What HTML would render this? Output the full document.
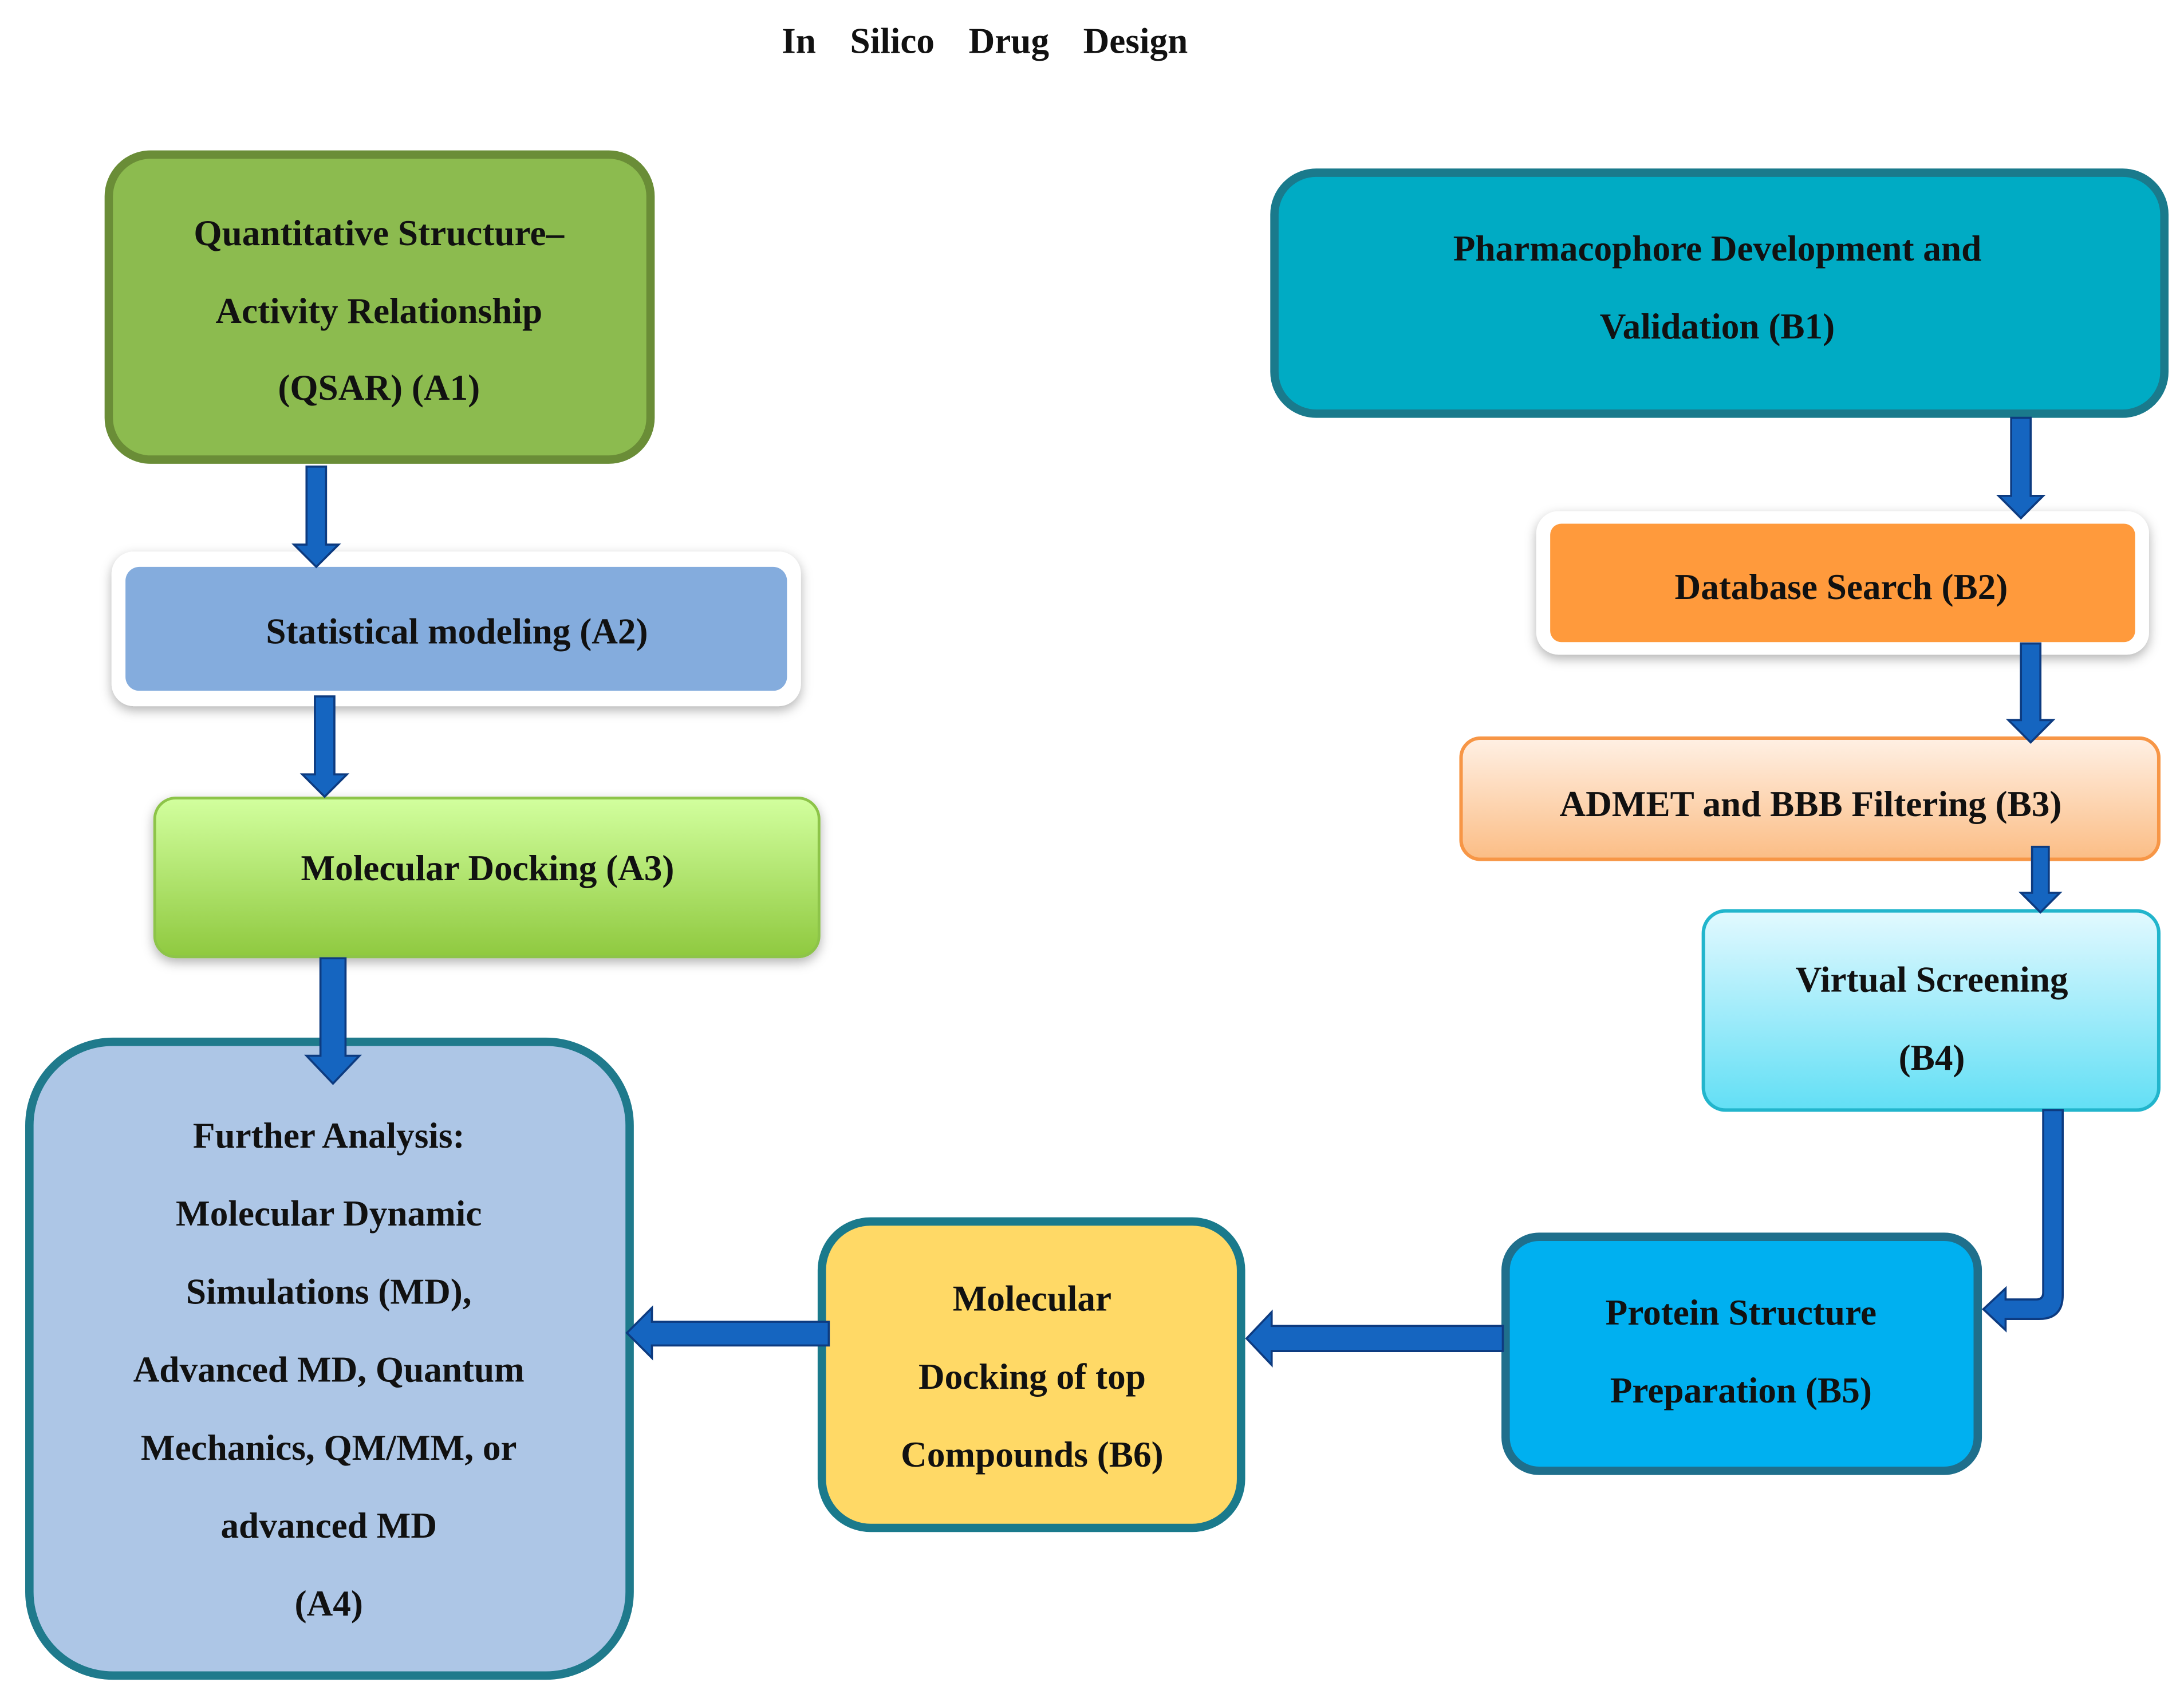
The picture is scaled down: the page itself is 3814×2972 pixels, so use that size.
<!DOCTYPE html>
<html><head><meta charset="utf-8"><style>
html,body{margin:0;padding:0;background:#fff}
svg{display:block}
text{font-family:"Liberation Serif",serif;font-weight:bold;font-size:26px;fill:#111;text-anchor:middle}
</style></head><body>
<svg width="3814" height="2972" viewBox="0 0 1568 1222" xmlns="http://www.w3.org/2000/svg">
<defs>
<linearGradient id="gA3" x1="0" y1="0" x2="0" y2="1"><stop offset="0" stop-color="#d2ff9e"/><stop offset="1" stop-color="#8fc93f"/></linearGradient>
<linearGradient id="gB3" x1="0" y1="0" x2="0" y2="1"><stop offset="0" stop-color="#fff0e4"/><stop offset="1" stop-color="#fbbd85"/></linearGradient>
<linearGradient id="gB4" x1="0" y1="0" x2="0" y2="1"><stop offset="0" stop-color="#e2f9ff"/><stop offset="1" stop-color="#62dff5"/></linearGradient>
<filter id="sh" x="-10%" y="-20%" width="120%" height="150%"><feDropShadow dx="0" dy="3" stdDeviation="4" flood-color="#000" flood-opacity="0.3"/></filter>
</defs>
<text x="707" y="38" font-size="30" word-spacing="18">In Silico Drug Design</text>

<!-- A1 -->
<rect x="78" y="111" width="389" height="219" rx="30" fill="#8cbb4f" stroke="#6a8d37" stroke-width="6"/>
<text x="272" y="176">Quantitative Structure–</text>
<text x="272" y="232">Activity Relationship</text>
<text x="272" y="287">(QSAR) (A1)</text>

<!-- A2 -->
<rect x="80" y="396" width="495" height="111" rx="16" fill="#fff" filter="url(#sh)"/>
<rect x="90" y="407" width="475" height="89" rx="10" fill="#84acdd"/>
<text x="328" y="462">Statistical modeling (A2)</text>

<!-- A3 -->
<rect x="111" y="573" width="477" height="114" rx="15" fill="url(#gA3)" stroke="#8dc448" stroke-width="2" filter="url(#sh)"/>
<text x="350" y="632">Molecular Docking (A3)</text>

<!-- A4 -->
<rect x="21" y="748" width="431" height="455" rx="60" fill="#adc6e6" stroke="#1f7a8c" stroke-width="6"/>
<text x="236" y="824">Further Analysis:</text>
<text x="236" y="880">Molecular Dynamic</text>
<text x="236" y="936">Simulations (MD),</text>
<text x="236" y="992">Advanced MD, Quantum</text>
<text x="236" y="1048">Mechanics, QM/MM, or</text>
<text x="236" y="1104">advanced MD</text>
<text x="236" y="1160">(A4)</text>

<!-- B1 -->
<rect x="915" y="124" width="639" height="173" rx="30" fill="#00abc4" stroke="#1a7a8c" stroke-width="6"/>
<text x="1233" y="187">Pharmacophore Development and</text>
<text x="1233" y="243">Validation (B1)</text>

<!-- B2 -->
<rect x="1103" y="367" width="440" height="103" rx="16" fill="#fff" filter="url(#sh)"/>
<rect x="1113" y="376" width="420" height="85" rx="8" fill="#ff9a3c"/>
<text x="1322" y="430">Database Search (B2)</text>

<!-- B3 -->
<rect x="1049" y="530" width="501" height="87" rx="14" fill="url(#gB3)" stroke="#f79646" stroke-width="2.5"/>
<text x="1300" y="586">ADMET and BBB Filtering (B3)</text>

<!-- B4 -->
<rect x="1223" y="654" width="327" height="143" rx="16" fill="url(#gB4)" stroke="#22b5cc" stroke-width="2.5"/>
<text x="1387" y="712">Virtual Screening</text>
<text x="1387" y="768">(B4)</text>

<!-- B5 -->
<rect x="1081" y="888" width="339" height="168" rx="24" fill="#00b0f0" stroke="#1f6f8c" stroke-width="6"/>
<text x="1250" y="951">Protein Structure</text>
<text x="1250" y="1007">Preparation (B5)</text>

<!-- B6 -->
<rect x="590" y="877" width="301" height="220" rx="35" fill="#ffd966" stroke="#1a7a8c" stroke-width="6"/>
<text x="741" y="941">Molecular</text>
<text x="741" y="997">Docking of top</text>
<text x="741" y="1053">Compounds (B6)</text>

<!-- arrows -->
<g fill="#1565c0" stroke="#0d3b80" stroke-width="1.5">
<polygon points="220,335 234,335 234,391 243,391 227,407 211,391 220,391"/>
<polygon points="226,500 240,500 240,556 249,556 233,572 217,556 226,556"/>
<polygon points="230,688 248,688 248,758 258,758 239,778 220,758 230,758"/>
<polygon points="1444,300 1458,300 1458,356 1467,356 1451,372 1435,356 1444,356"/>
<polygon points="1451,462 1465,462 1465,517 1474,517 1458,533 1442,517 1451,517"/>
<polygon points="1459,608 1471,608 1471,641 1479,641 1465,655 1451,641 1459,641"/>
<polygon points="1079,952 1079,970 913,970 913,980 895,961 913,942 913,952"/>
<polygon points="595,949 595,966 468,966 468,975 450,957 468,939 468,949"/>
<path d="M1467,797 L1481,797 L1481,930 Q1481,947 1464,947 L1440,947 L1440,955 L1424,940 L1440,925 L1440,933 L1462,933 Q1467,933 1467,928 Z"/>
</g>
</svg>
</body></html>
